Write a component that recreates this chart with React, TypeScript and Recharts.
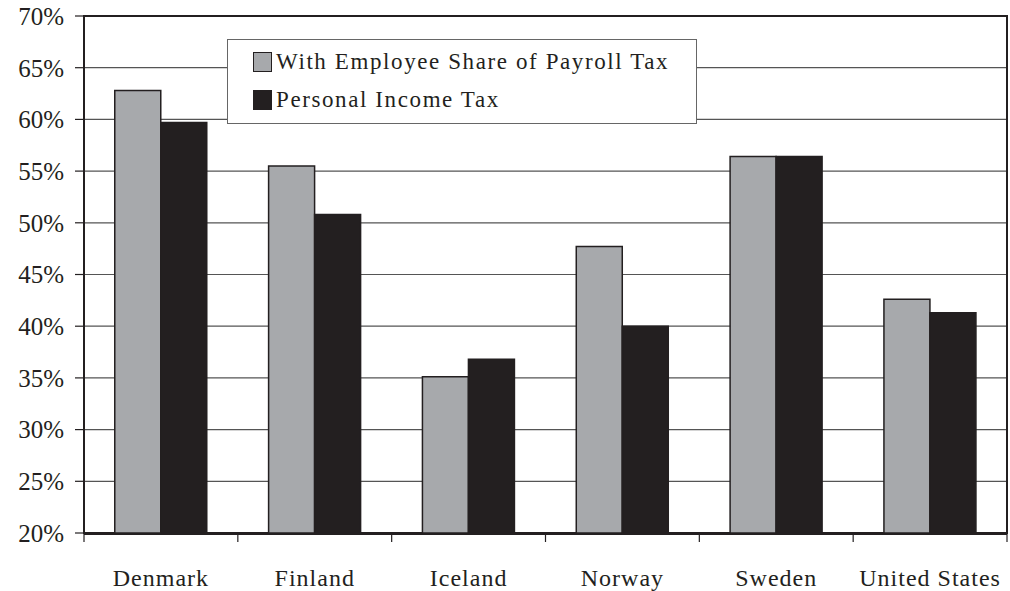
import React from "react";
import {
  BarChart,
  Bar,
  XAxis,
  YAxis,
  CartesianGrid,
  ReferenceArea,
  Legend,
} from "recharts";

const categories = ["Denmark", "Finland", "Iceland", "Norway", "Sweden", "United States"];
const payrollSeries = [62.8, 55.5, 35.1, 47.7, 56.4, 42.6];
const incomeSeries = [59.7, 50.8, 36.8, 40.0, 56.4, 41.3];
const yTicks = [20, 25, 30, 35, 40, 45, 50, 55, 60, 65, 70];
const boundaryTicks = [0, 1, 2, 3, 4, 5, 6];

const seriesNames = ["With Employee Share of Payroll Tax", "Personal Income Tax"];

const data = categories.map((c, i) => ({
  name: c,
  idx: i + 0.5,
  payroll: payrollSeries[i],
  income: incomeSeries[i],
}));

const FONT = "'Liberation Serif', 'Times New Roman', serif";
const GRAY = "#a7a9ac";
const DARK = "#231f20";

const LegendBox = () => (
  <div
    style={{
      position: "absolute",
      left: 227,
      top: 39,
      width: 468,
      height: 83,
      border: "1.5px solid #666",
      background: "#fff",
      fontFamily: FONT,
      fontSize: 23,
      color: DARK,
      boxSizing: "content-box",
    }}
  >
    {seriesNames.map((n, i) => (
      <div
        key={n}
        style={{
          position: "absolute",
          left: 25,
          top: 9 + i * 38,
          display: "flex",
          alignItems: "center",
          whiteSpace: "nowrap",
          letterSpacing: 1.6,
        }}
      >
        <span
          style={{
            display: "inline-block",
            width: 17,
            height: 18,
            background: i === 0 ? GRAY : DARK,
            border: `1.5px solid ${DARK}`,
            marginRight: 4,
          }}
        />
        <span>{n}</span>
      </div>
    ))}
  </div>
);

const EmptyTick = () => <g />;

export default function App() {
  return (
    <div style={{ position: "absolute", left: 0, top: 0, width: 1010, height: 591, background: "#fff" }}>
      <BarChart
        width={1010}
        height={591}
        data={data}
        margin={{ top: 16, right: 3, bottom: 0, left: 0 }}
        barCategoryGap="20%"
        barGap={0}
      >
        <CartesianGrid vertical={false} stroke="#555" strokeWidth={1.2} />
        <XAxis
          xAxisId="b"
          type="number"
          dataKey="idx"
          domain={[0, 6]}
          ticks={boundaryTicks}
          tick={<EmptyTick />}
          tickLine={{ stroke: DARK, strokeWidth: 1.2 }}
          tickSize={9}
          axisLine={false}
          height={1}
          allowDataOverflow
          interval={0}
        />
        <XAxis
          xAxisId="cat"
          dataKey="name"
          tickLine={false}
          axisLine={{ stroke: DARK, strokeWidth: 2 }}
          tick={{ fill: DARK, fontSize: 24, fontFamily: FONT, letterSpacing: 1 }}
          tickMargin={29}
          interval={0}
          height={57}
        />
        <YAxis
          width={84}
          domain={[20, 70]}
          ticks={yTicks}
          allowDataOverflow
          tickFormatter={(v: number) => `${v}%`}
          tick={{ fill: DARK, fontSize: 25, fontFamily: FONT }}
          tickLine={{ stroke: DARK, strokeWidth: 1.2 }}
          tickSize={9}
          tickMargin={11}
          axisLine={{ stroke: DARK, strokeWidth: 2 }}
        />
        <Bar
          xAxisId="cat"
          dataKey="payroll"
          name={seriesNames[0]}
          fill={GRAY}
          stroke={DARK}
          strokeWidth={1.5}
          isAnimationActive={false}
        />
        <Bar
          xAxisId="cat"
          dataKey="income"
          name={seriesNames[1]}
          fill={DARK}
          stroke={DARK}
          strokeWidth={1.5}
          isAnimationActive={false}
        />
        <ReferenceArea
          xAxisId="cat"
          y1={20}
          y2={70}
          fill="none"
          fillOpacity={0}
          stroke={DARK}
          strokeWidth={2}
          ifOverflow="visible"
        />
        <Legend content={() => null} />
      </BarChart>
      <LegendBox />
    </div>
  );
}
